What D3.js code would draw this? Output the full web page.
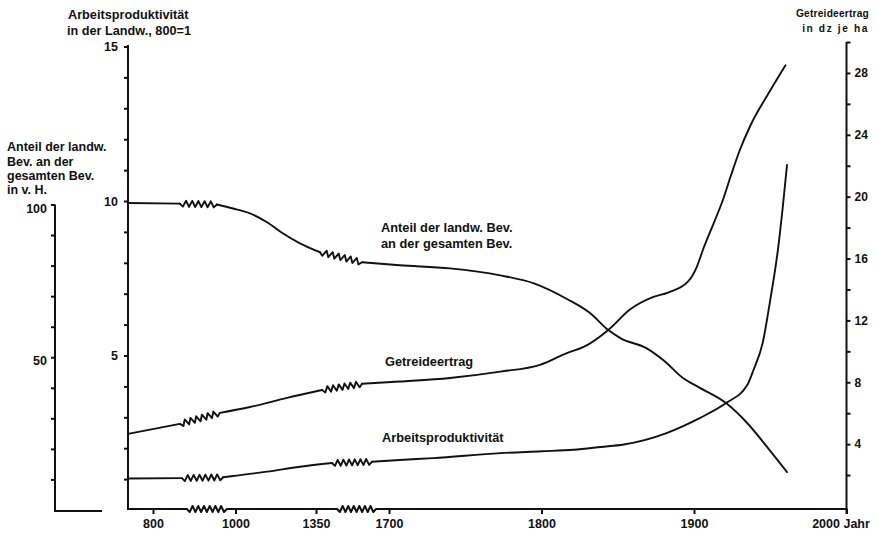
<!DOCTYPE html>
<html><head><meta charset="utf-8">
<script src="https://cdn.jsdelivr.net/npm/d3@7"></script>
<style>
body{margin:0;background:#fff}
svg text{font-family:"Liberation Sans",Arial,sans-serif;font-weight:bold;fill:#111}
</style></head><body>
<svg id="c" width="876" height="533"></svg>
<script>
// ---- data ----
const tickYears  = [800, 1000, 1350, 1700, 1800, 1900, 2000];
const tickLabels = ["800", "1000", "1350", "1700", "1800", "1900", "2000 Jahr"];

const anteilYears  = [740, 865, 955, 994, 1063, 1137, 1207, 1280, 1369, 1571, 1707, 1740, 1773, 1795, 1817, 1832, 1844, 1852, 1869, 1880, 1893, 1903, 1921, 1935, 1948, 1961];
const anteilValues = [100.5, 100.3, 100.0, 98.7, 97.1, 94.2, 90.5, 87.3, 84.4, 81.1, 80.1, 79.1, 76.8, 74.2, 69.0, 64.4, 58.8, 56.2, 52.9, 49.0, 43.1, 40.2, 35.0, 28.4, 20.6, 12.4];
const anteilBreaks = [[865, 955], [1369, 1571]];

const getreideYears  = [740, 865, 962, 1063, 1224, 1379, 1571, 1707, 1740, 1773, 1799, 1817, 1828, 1844, 1858, 1873, 1883, 1896, 1902, 1906, 1913, 1919, 1924, 1930, 1937, 1949, 1960];
const getreideValues = [4.66, 5.31, 6.02, 6.4, 6.99, 7.5, 7.9, 8.05, 8.28, 8.69, 9.13, 9.9, 10.3, 11.4, 12.7, 13.5, 13.8, 14.5, 15.5, 16.6, 18.3, 19.8, 21.3, 23.0, 24.6, 26.7, 28.5];
const getreideBreaks = [[865, 962], [1379, 1571]];

const arbeitYears  = [740, 870, 970, 994, 1137, 1280, 1427, 1618, 1707, 1729, 1773, 1800, 1821, 1839, 1854, 1882, 1904, 1921, 1935, 1939, 1945, 1950, 1955, 1958, 1961];
const arbeitValues = [1.02, 1.03, 1.06, 1.1, 1.24, 1.4, 1.52, 1.56, 1.62, 1.68, 1.84, 1.9, 1.95, 2.04, 2.12, 2.49, 2.98, 3.46, 4.05, 4.53, 5.4, 6.8, 8.41, 9.7, 11.17];
const arbeitBreaks = [[870, 970], [1427, 1618]];

const axisBreaks = [[882, 979], [1451, 1638]];

const leftTicks  = [10, 20, 30, 40, 50, 60, 70, 80, 90, 100];
const leftLabels = [50, 100];
const midTicks   = [1,2,3,4,5,6,7,8,9,10,11,12,13,14,15];
const midLabels  = [5, 10, 15];
const rightTicks = [2,4,6,8,10,12,14,16,18,20,22,24,26,28,30];
const rightLabels= [4, 8, 12, 16, 20, 24, 28];

// ---- scales ----
const svg = d3.select("#c");
const x = d3.scaleLinear().domain([740, 800, 1000, 1350, 1700, 2000]).range([128, 153, 235.5, 316, 389, 846.5]);
const yLeft  = d3.scaleLinear().domain([0, 100]).range([510, 204.5]);
const yMid   = d3.scaleLinear().domain([0, 15]).range([510, 46.5]);
const yRight = d3.scaleLinear().domain([0, 30]).range([506, 42]);

const ink = "#111";
const FONT = "'Liberation Sans',Arial,sans-serif";

function zigzag(p0, p1, amp, step) {
  const dx = p1[0]-p0[0], dy = p1[1]-p0[1];
  const len = Math.hypot(dx, dy);
  let n = Math.max(2, Math.round(len/step));
  if (n % 2) n += 1;
  const nx = -dy/len, ny = dx/len;
  const pts = [p0];
  for (let k = 1; k < n; k++) {
    const t = k/n, s = (k % 2 ? 1 : -1) * amp;
    pts.push([p0[0]+dx*t+nx*s, p0[1]+dy*t+ny*s]);
  }
  pts.push(p1);
  return pts;
}

const smooth = d3.line().curve(d3.curveMonotoneX);
const straight = d3.line();

function drawSeries(years, values, breaks, y) {
  const pts = years.map((yr, i) => [x(yr), y(values[i])]);
  let seg = [pts[0]];
  const g = svg.append("g").attr("fill", "none").attr("stroke", ink)
    .attr("stroke-width", 1.9).attr("stroke-linejoin", "round").attr("stroke-linecap", "round");
  for (let i = 0; i < years.length - 1; i++) {
    const isBreak = breaks.some(b => b[0] === years[i] && b[1] === years[i+1]);
    if (isBreak) {
      if (seg.length > 1) g.append("path").attr("d", smooth(seg));
      g.append("path").attr("d", straight(zigzag(pts[i], pts[i+1], 3, 3.1)));
      seg = [pts[i+1]];
    } else {
      seg.push(pts[i+1]);
    }
  }
  if (seg.length > 1) g.append("path").attr("d", smooth(seg));
}

drawSeries(anteilYears, anteilValues, anteilBreaks, yLeft);
drawSeries(getreideYears, getreideValues, getreideBreaks, yRight);
drawSeries(arbeitYears, arbeitValues, arbeitBreaks, yMid);

// ---- x axis ----
const axisY = 509;
const axG = svg.append("g").attr("fill", "none").attr("stroke", ink).attr("stroke-width", 2);
const axPts = [[127, axisY]];
axisBreaks.forEach(b => {
  axPts.push([x(b[0]), axisY]);
  zigzag([x(b[0]), axisY], [x(b[1]), axisY], 3, 3.1).slice(1).forEach(p => axPts.push(p));
});
axPts.push([847.5, axisY]);
axG.append("path").attr("d", straight(axPts)).attr("stroke-linejoin", "round");

const xAxis = svg.append("g").attr("transform", `translate(0,${axisY})`)
  .call(d3.axisBottom(x).tickValues(tickYears).tickSize(5).tickPadding(5)
    .tickFormat((d, i) => tickLabels[i]));
xAxis.select(".domain").remove();
xAxis.selectAll(".tick line").attr("stroke", ink).attr("stroke-width", 2);
xAxis.selectAll(".tick text").attr("font-size", 12.5).attr("fill", ink)
  .attr("dx", (d, i) => i === tickLabels.length - 1 ? -6 : 0)
  .style("font-family", FONT).style("font-weight", "bold");

// ---- left axis ----
svg.append("path").attr("fill", "none").attr("stroke", ink).attr("stroke-width", 2)
  .attr("d", straight([[55, yLeft(100)], [55, 511], [102, 511]]));
const lAx = svg.append("g").attr("transform", "translate(55,0)")
  .call(d3.axisLeft(yLeft).tickValues(leftTicks).tickSize(4).tickPadding(4)
    .tickFormat(d => leftLabels.includes(d) ? d : ""));
lAx.select(".domain").remove();
lAx.selectAll(".tick line").attr("stroke", ink).attr("stroke-width", 2);
lAx.selectAll(".tick text").attr("font-size", 12.5).attr("fill", ink).attr("dy", "0.6em")
  .style("font-family", FONT).style("font-weight", "bold");

// ---- middle axis ----
svg.append("path").attr("fill", "none").attr("stroke", ink).attr("stroke-width", 2)
  .attr("d", straight([[128, yMid(15) - 1.5], [128, 510]]));
const mAx = svg.append("g").attr("transform", "translate(128,0)")
  .call(d3.axisLeft(yMid).tickValues(midTicks).tickSize(4).tickPadding(6)
    .tickFormat(d => midLabels.includes(d) ? d : ""));
mAx.select(".domain").remove();
mAx.selectAll(".tick line").attr("stroke", ink).attr("stroke-width", 2);
mAx.selectAll(".tick text").attr("font-size", 12.5).attr("fill", ink)
  .style("font-family", FONT).style("font-weight", "bold");

// ---- right axis ----
svg.append("path").attr("fill", "none").attr("stroke", ink).attr("stroke-width", 2)
  .attr("d", straight([[846.5, yRight(30)], [846.5, 514]]));
const rAx = svg.append("g").attr("transform", "translate(846.5,0)")
  .call(d3.axisRight(yRight).tickValues(rightTicks).tickSize(4).tickPadding(4)
    .tickFormat(d => rightLabels.includes(d) ? d : ""));
rAx.select(".domain").remove();
rAx.selectAll(".tick line").attr("stroke", ink).attr("stroke-width", 2);
rAx.selectAll(".tick text").attr("font-size", 12).attr("fill", ink)
  .style("font-family", FONT).style("font-weight", "bold");

// ---- titles and labels ----
function label(t, xx, yy, size, anchor, spacing) {
  const el = svg.append("text").attr("x", xx).attr("y", yy).attr("font-size", size)
    .attr("text-anchor", anchor || "start").text(t);
  if (spacing) el.attr("letter-spacing", spacing);
  return el;
}
label("Arbeitsproduktivität", 68, 19, 12.7);
label("in der Landw., 800=1", 67, 35, 12.7);
label("Anteil der landw.", 7, 151, 12.5);
label("Bev. an der", 7, 166, 12.5);
label("gesamten Bev.", 7, 180, 12.5);
label("in v. H.", 7, 194, 12.5);
label("Getreideertrag", 869, 17, 10.2, "end", 0.2);
label("in dz je ha", 869, 32, 10.2, "end", 1.6);
label("Anteil der landw. Bev.", 381, 232, 12.8);
label("an der gesamten Bev.", 381, 248, 12.8);
label("Getreideertrag", 385, 366, 12.8);
label("Arbeitsproduktivität", 382, 442, 12.8);
</script>
</body></html>
